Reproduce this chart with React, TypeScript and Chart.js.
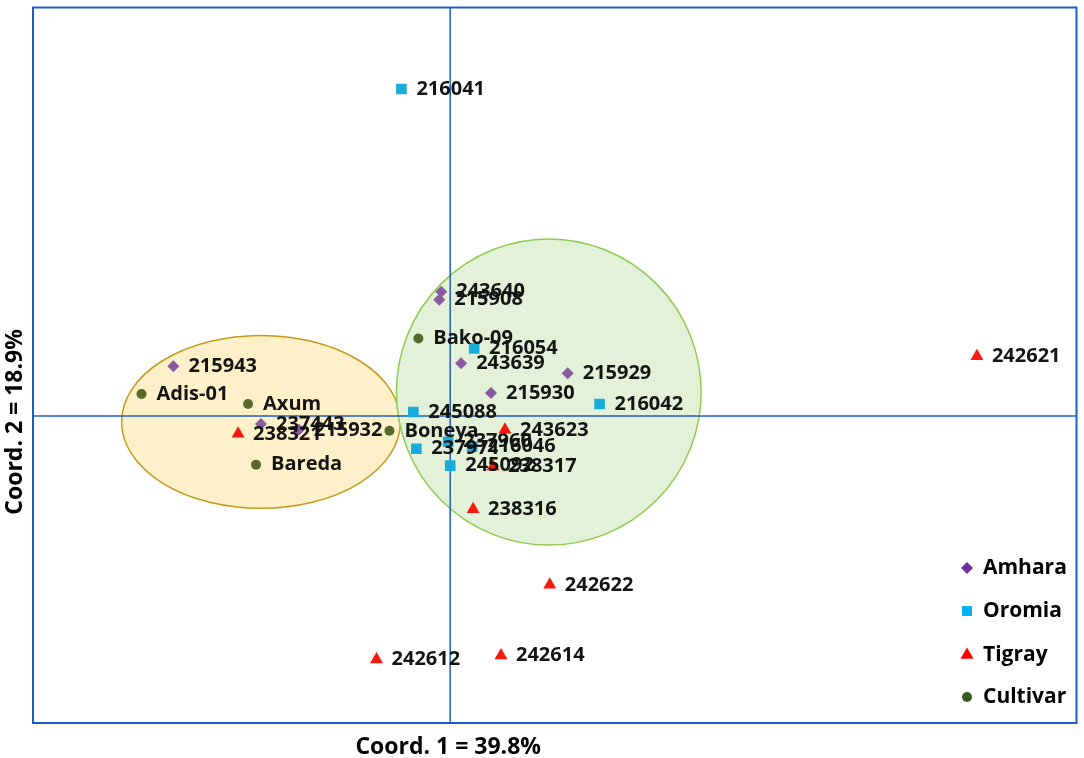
import React, { useEffect, useRef } from 'react';
import { Chart, registerables } from 'chart.js';

Chart.register(...registerables);

// ---- Data (Coord. 1, Coord. 2) ----
const amharaLabels = ['243640', '215908', '243639', '215929', '215930', '215943', '237443', '215932'];
const amharaX = [-0.009, -0.011, 0.011, 0.118, 0.041, -0.278, -0.190, -0.152];
const amharaY = [0.125, 0.117, 0.053, 0.043, 0.023, 0.050, -0.008, -0.014];

const oromiaLabels = ['216041', '216054', '216042', '245088', '237960', '216046', '237971', '245092'];
const oromiaX = [-0.049, 0.024, 0.150, -0.037, -0.002, 0.022, -0.034, 0.000];
const oromiaY = [0.329, 0.068, 0.012, 0.004, -0.026, -0.031, -0.033, -0.050];

const tigrayLabels = ['242621', '243623', '238317', '238316', '242622', '242612', '242614', '238321'];
const tigrayX = [0.529, 0.055, 0.043, 0.023, 0.100, -0.074, 0.051, -0.213];
const tigrayY = [0.060, -0.014, -0.051, -0.094, -0.170, -0.245, -0.241, -0.018];

const cultivarLabels = ['Bako-09', 'Adis-01', 'Axum', 'Bareda', 'Boneya'];
const cultivarX = [-0.032, -0.310, -0.203, -0.195, -0.061];
const cultivarY = [0.078, 0.022, 0.012, -0.049, -0.015];

const seriesNames = ['Amhara', 'Oromia', 'Tigray', 'Cultivar'];

// Group ellipses (centre and radii in coordinate units)
const ellipseCx = [-0.190, 0.099];
const ellipseCy = [-0.006, 0.024];
const ellipseRx = [0.140, 0.153];
const ellipseRy = [0.087, 0.154];

const xMin = -0.419;
const xMax = 0.629;
const yMin = -0.309;
const yMax = 0.411;

const xTitle = 'Coord. 1 = 39.8%';
const yTitle = 'Coord. 2 = 18.9%';

const toPoints = (xs: number[], ys: number[]) => xs.map((x, i) => ({ x, y: ys[i] }));

function drawMarker(ctx: CanvasRenderingContext2D, style: string, r: number, x: number, y: number) {
  ctx.beginPath();
  if (style === 'rectRot') {
    ctx.moveTo(x, y - r);
    ctx.lineTo(x + r, y);
    ctx.lineTo(x, y + r);
    ctx.lineTo(x - r, y);
    ctx.closePath();
  } else if (style === 'rect') {
    const s = r * Math.SQRT1_2;
    ctx.rect(x - s, y - s, 2 * s, 2 * s);
  } else if (style === 'triangle') {
    const a = (2 * Math.PI) / 3;
    ctx.moveTo(x, y - r);
    ctx.lineTo(x + Math.sin(a) * r, y - Math.cos(a) * r);
    ctx.lineTo(x + Math.sin(2 * a) * r, y - Math.cos(2 * a) * r);
    ctx.closePath();
  } else {
    ctx.arc(x, y, r, 0, Math.PI * 2);
  }
  ctx.fill();
}

export default function App() {
  const canvasRef = useRef<HTMLCanvasElement | null>(null);

  useEffect(() => {
    if (!canvasRef.current) return;

    const ellipseFill = ['#FEF0C8', '#E3F1D9'];
    const ellipseStroke = ['#C49A1C', '#8FCB4E'];
    const allLabels = [amharaLabels, oromiaLabels, tigrayLabels, cultivarLabels];
    const legendColors = ['#7030A0', '#00B0F0', '#FF0000', '#385723'];
    const legendStyles = ['rectRot', 'rect', 'triangle', 'circle'];
    const legendRadius = [6, 7, 7.5, 5];

    const decor = {
      id: 'decor',
      beforeDatasetsDraw(chart: any) {
        const { ctx, chartArea, scales } = chart;
        const xs = scales.x;
        const ys = scales.y;
        ctx.save();
        for (let i = 0; i < ellipseCx.length; i++) {
          const cx = xs.getPixelForValue(ellipseCx[i]);
          const cy = ys.getPixelForValue(ellipseCy[i]);
          const rx = Math.abs(xs.getPixelForValue(ellipseCx[i] + ellipseRx[i]) - cx);
          const ry = Math.abs(ys.getPixelForValue(ellipseCy[i] + ellipseRy[i]) - cy);
          ctx.beginPath();
          ctx.ellipse(cx, cy, rx, ry, 0, 0, Math.PI * 2);
          ctx.fillStyle = ellipseFill[i];
          ctx.fill();
          ctx.lineWidth = 1.5;
          ctx.strokeStyle = ellipseStroke[i];
          ctx.stroke();
        }
        const x0 = xs.getPixelForValue(0);
        const y0 = ys.getPixelForValue(0);
        ctx.strokeStyle = '#1F5FBF';
        ctx.lineWidth = 1.5;
        ctx.beginPath();
        ctx.moveTo(x0, chartArea.top);
        ctx.lineTo(x0, chartArea.bottom);
        ctx.moveTo(chartArea.left, y0);
        ctx.lineTo(chartArea.right, y0);
        ctx.stroke();
        ctx.lineWidth = 2;
        ctx.strokeStyle = '#1A5DC4';
        ctx.strokeRect(chartArea.left, chartArea.top, chartArea.right - chartArea.left, chartArea.bottom - chartArea.top);
        ctx.restore();
      },
      afterDatasetsDraw(chart: any) {
        const { ctx, scales } = chart;
        ctx.save();
        ctx.font = 'bold 20px "Open Sans"';
        ctx.fillStyle = '#141414';
        ctx.textBaseline = 'middle';
        ctx.textAlign = 'left';
        chart.data.datasets.forEach((_ds: any, di: number) => {
          const meta = chart.getDatasetMeta(di);
          meta.data.forEach((el: any, pi: number) => {
            ctx.fillText(allLabels[di][pi], el.x + 15, el.y);
          });
        });
        const lx = 967;
        const ly = [568, 611, 655, 697];
        ctx.font = 'bold 21px "Open Sans"';
        for (let i = 0; i < seriesNames.length; i++) {
          ctx.fillStyle = legendColors[i];
          drawMarker(ctx, legendStyles[i], legendRadius[i], lx, ly[i]);
          ctx.fillStyle = '#000000';
          ctx.fillText(seriesNames[i], 983, ly[i]);
        }
        const x0 = scales.x.getPixelForValue(0);
        const y0 = scales.y.getPixelForValue(0);
        ctx.font = 'bold 23px "Open Sans"';
        ctx.fillStyle = '#000000';
        ctx.textAlign = 'center';
        ctx.fillText(xTitle, x0 - 2, 747);
        ctx.translate(15, y0 + 6);
        ctx.rotate(-Math.PI / 2);
        ctx.fillText(yTitle, 0, 0);
        ctx.restore();
      },
    };

    const chart = new Chart(canvasRef.current, {
      type: 'scatter',
      data: {
        datasets: [
          {
            label: seriesNames[0],
            data: toPoints(amharaX, amharaY),
            pointStyle: 'rectRot',
            pointRadius: 6,
            backgroundColor: '#8A5A9E',
            borderColor: '#8A5A9E',
            borderWidth: 0,
          },
          {
            label: seriesNames[1],
            data: toPoints(oromiaX, oromiaY),
            pointStyle: 'rect',
            pointRadius: 7.5,
            backgroundColor: '#18ACDA',
            borderColor: '#18ACDA',
            borderWidth: 0,
          },
          {
            label: seriesNames[2],
            data: toPoints(tigrayX, tigrayY),
            pointStyle: 'triangle',
            pointRadius: 7.5,
            backgroundColor: '#F51A0F',
            borderColor: '#F51A0F',
            borderWidth: 0,
          },
          {
            label: seriesNames[3],
            data: toPoints(cultivarX, cultivarY),
            pointStyle: 'circle',
            pointRadius: 5,
            backgroundColor: '#56692A',
            borderColor: '#56692A',
            borderWidth: 0,
          },
        ],
      },
      options: {
        responsive: false,
        animation: false,
        layout: { padding: { left: 33, top: 3, right: 3, bottom: 35 } },
        scales: {
          x: { type: 'linear', min: xMin, max: xMax, display: false },
          y: { type: 'linear', min: yMin, max: yMax, display: false },
        },
        plugins: {
          legend: { display: false },
          tooltip: { enabled: false },
        },
      },
      plugins: [decor],
    });

    return () => chart.destroy();
  }, []);

  return (
    <div style={{ position: 'absolute', left: 0, top: 0, width: 1084, height: 758, background: '#ffffff' }}>
      <canvas ref={canvasRef} width={1084} height={758} style={{ display: 'block' }} />
    </div>
  );
}
